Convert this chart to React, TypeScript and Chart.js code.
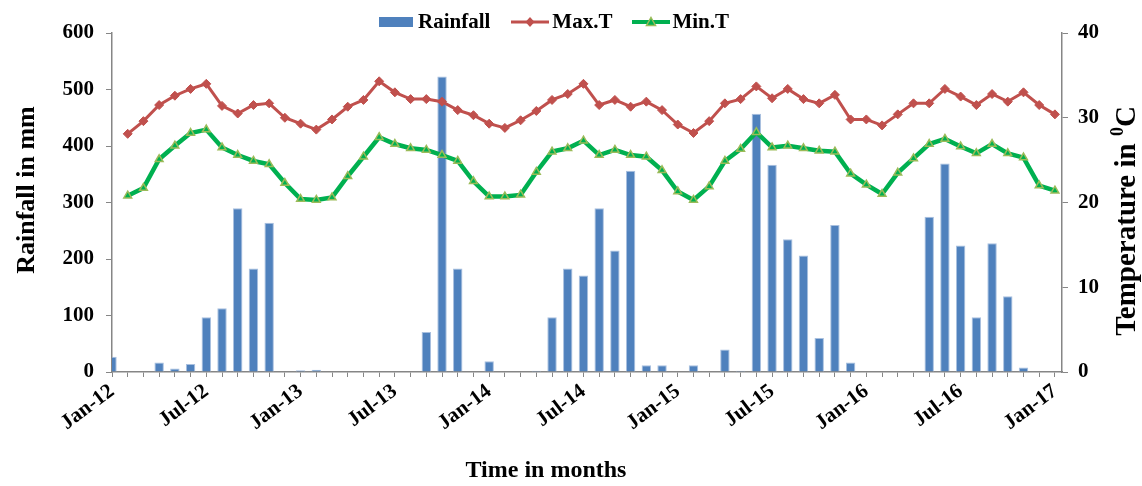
import React, { useEffect, useRef } from 'react';
import { Chart, registerables } from 'chart.js';

Chart.register(...registerables);

const FONT = "'Liberation Serif', 'Times New Roman', Times, serif";

const seriesLabels = ['Rainfall', 'Max.T', 'Min.T'];
const tickLabels = ['Jan-12', 'Jul-12', 'Jan-13', 'Jul-13', 'Jan-14', 'Jul-14', 'Jan-15', 'Jul-15', 'Jan-16', 'Jul-16', 'Jan-17'];
const leftTitle = 'Rainfall in mm';
const rightTitleParts = ['Temperature in ', '0', 'C'];
const xTitle = 'Time in months';

// Monthly values, Jan-12 (index 0) .. Jan-17 (index 60)
const rainfall = [
  27, 0, 0, 17, 6, 14, 97, 113, 290, 183, 264, 0,
  3, 4, 0, 0, 0, 0, 0, 0, 71, 523, 183, 0,
  19, 0, 0, 2, 97, 183, 171, 290, 215, 356, 12, 12,
  0, 12, 0, 40, 2, 457, 367, 235, 206, 60, 260, 17,
  0, 0, 0, 0, 275, 369, 224, 97, 228, 134, 8, 0,
  0,
];
const maxT = [
  null, 28.1, 29.6, 31.5, 32.6, 33.4, 34.0, 31.4, 30.5, 31.5, 31.7, 30.0,
  29.3, 28.6, 29.8, 31.3, 32.1, 34.3, 33.0, 32.2, 32.2, 31.9, 30.9, 30.3,
  29.3, 28.8, 29.7, 30.8, 32.1, 32.8, 34.0, 31.5, 32.1, 31.3, 31.9, 30.9,
  29.2, 28.2, 29.6, 31.7, 32.2, 33.7, 32.3, 33.4, 32.2, 31.7, 32.7, 29.8,
  29.8, 29.1, 30.4, 31.7, 31.7, 33.4, 32.5, 31.5, 32.8, 31.9, 33.0, 31.5,
  30.4,
];
const minT = [
  null, 20.8, 21.7, 25.1, 26.7, 28.2, 28.6, 26.5, 25.6, 24.9, 24.5, 22.3,
  20.4, 20.3, 20.6, 23.1, 25.4, 27.7, 26.9, 26.4, 26.2, 25.6, 24.9, 22.5,
  20.7, 20.7, 20.9, 23.6, 26.0, 26.4, 27.3, 25.6, 26.2, 25.6, 25.4, 23.8,
  21.3, 20.3, 21.9, 24.9, 26.3, 28.3, 26.5, 26.7, 26.4, 26.1, 26.0, 23.4,
  22.1, 21.0, 23.5, 25.2, 26.9, 27.5, 26.6, 25.8, 26.9, 25.8, 25.3, 22.0,
  21.4,
];

const RAIN = '#4F81BD';
const RAIN_EDGE = '#A9C0DF';
const MAX_C = '#C0504D';
const MIN_C = '#00B050';
const MIN_EDGE = '#9BBB59';
const AXIS = '#868686';

const tickFont = { family: FONT, size: 21, weight: 'bold' as const };

const titlesPlugin = {
  id: 'customTitles',
  afterDraw(chart: any) {
    const ctx = chart.ctx as CanvasRenderingContext2D;
    ctx.save();
    ctx.fillStyle = '#000';
    ctx.textAlign = 'center';
    ctx.textBaseline = 'middle';
    // x title
    ctx.font = `bold 24px ${FONT}`;
    ctx.fillText(xTitle, 546, 471);
    // left title
    ctx.save();
    ctx.font = `bold 26px ${FONT}`;
    ctx.translate(27, 190);
    ctx.rotate(-Math.PI / 2);
    ctx.fillText(leftTitle, 0, 0);
    ctx.restore();
    // right title with superscript
    const size = 29;
    ctx.save();
    ctx.translate(1128, 221);
    ctx.rotate(-Math.PI / 2);
    ctx.textAlign = 'left';
    ctx.textBaseline = 'middle';
    const big = `bold ${size}px ${FONT}`;
    const small = `bold ${Math.round(size * 0.62)}px ${FONT}`;
    ctx.font = big;
    const w1 = ctx.measureText(rightTitleParts[0]).width;
    const w3 = ctx.measureText(rightTitleParts[2]).width;
    ctx.font = small;
    const w2 = ctx.measureText(rightTitleParts[1]).width;
    let x = -(w1 + w2 + w3) / 2;
    ctx.font = big;
    ctx.fillText(rightTitleParts[0], x, 0);
    x += w1;
    ctx.font = small;
    ctx.fillText(rightTitleParts[1], x, -size * 0.32);
    x += w2;
    ctx.font = big;
    ctx.fillText(rightTitleParts[2], x, 0);
    ctx.restore();
    ctx.restore();
  },
};

function Legend() {
  const textStyle: React.CSSProperties = { display: 'inline-block', lineHeight: '21px' };
  return (
    <div
      style={{
        position: 'absolute',
        left: 379,
        top: 11,
        height: 21,
        display: 'flex',
        alignItems: 'center',
        whiteSpace: 'nowrap',
        font: `bold 21px ${FONT}`,
        color: '#000',
      }}
    >
      <span style={{ display: 'inline-block', width: 34, height: 10, background: RAIN, marginRight: 5 }} />
      <span style={textStyle}>{seriesLabels[0]}</span>
      <svg width={38} height={12} style={{ marginLeft: 21, marginRight: 3 }}>
        <line x1={0} y1={6} x2={38} y2={6} stroke={MAX_C} strokeWidth={3} />
        <polygon points="19,1 23.5,6 19,11 14.5,6" fill={MAX_C} />
      </svg>
      <span style={textStyle}>{seriesLabels[1]}</span>
      <svg width={38} height={12} style={{ marginLeft: 20, marginRight: 2 }}>
        <line x1={0} y1={6} x2={38} y2={6} stroke={MIN_C} strokeWidth={4} />
        <polygon points="19,1.5 23.5,9.5 14.5,9.5" fill={MIN_C} stroke={MIN_EDGE} strokeWidth={1.5} />
      </svg>
      <span style={textStyle}>{seriesLabels[2]}</span>
    </div>
  );
}

export default function App() {
  const ref = useRef<HTMLCanvasElement>(null);

  useEffect(() => {
    const canvas = ref.current;
    if (!canvas) return;
    const chart = new Chart(canvas, {
      type: 'bar',
      data: {
        datasets: [
          {
            type: 'bar',
            label: seriesLabels[0],
            data: rainfall.map((v, i) => ({ x: i, y: v })),
            backgroundColor: RAIN,
            borderColor: RAIN_EDGE,
            borderWidth: 1,
            barPercentage: 0.6,
            categoryPercentage: 1,
            yAxisID: 'y',
            order: 2,
          } as any,
          {
            type: 'line',
            label: seriesLabels[1],
            data: maxT.map((v, i) => ({ x: i, y: v })),
            borderColor: MAX_C,
            backgroundColor: MAX_C,
            borderWidth: 3,
            pointStyle: 'rectRot',
            pointRadius: 4.5,
            pointBorderWidth: 1,
            pointBackgroundColor: MAX_C,
            pointBorderColor: MAX_C,
            tension: 0,
            yAxisID: 'y1',
            order: 1,
          } as any,
          {
            type: 'line',
            label: seriesLabels[2],
            data: minT.map((v, i) => ({ x: i, y: v })),
            borderColor: MIN_C,
            backgroundColor: MIN_C,
            borderWidth: 4.5,
            pointStyle: 'triangle',
            pointRadius: 4.5,
            pointBorderWidth: 1.5,
            pointBackgroundColor: MIN_C,
            pointBorderColor: MIN_EDGE,
            tension: 0,
            yAxisID: 'y1',
            order: 0,
          } as any,
        ],
      },
      options: {
        responsive: false,
        maintainAspectRatio: false,
        animation: false,
        layout: { padding: { top: 33, left: 0, right: 0, bottom: 0 } },
        plugins: {
          legend: { display: false },
          tooltip: { enabled: false },
        },
        scales: {
          x: {
            type: 'linear',
            min: 0,
            max: 60.45,
            bounds: 'data',
            offset: false,
            grid: {
              display: true,
              offset: false,
              drawOnChartArea: false,
              drawTicks: true,
              tickLength: 5,
              color: AXIS,
              lineWidth: 1,
            },
            border: { display: true, color: AXIS, width: 1.5 },
            ticks: {
              stepSize: 1,
              autoSkip: false,
              includeBounds: false,
              minRotation: 37,
              maxRotation: 37,
              padding: 2,
              color: '#000',
              font: tickFont,
              callback: (v: any) => {
                const n = Number(v);
                return Number.isInteger(n) && n % 6 === 0 ? tickLabels[n / 6] : '';
              },
            },
            afterFit: (s: any) => {
              s.height = 114;
            },
          },
          y: {
            type: 'linear',
            position: 'left',
            min: 0,
            max: 600,
            grid: { display: true, drawOnChartArea: false, tickLength: 6, color: AXIS },
            border: { display: true, color: AXIS, width: 1.5 },
            ticks: { stepSize: 100, padding: 12, color: '#000', font: tickFont },
            afterFit: (s: any) => {
              s.width = 112;
            },
          },
          y1: {
            type: 'linear',
            position: 'right',
            min: 0,
            max: 40,
            grid: { display: true, drawOnChartArea: false, tickLength: 6, color: AXIS },
            border: { display: true, color: AXIS, width: 1.5 },
            ticks: { stepSize: 10, padding: 10, color: '#000', font: tickFont },
            afterFit: (s: any) => {
              s.width = 80;
            },
          },
        },
      } as any,
      plugins: [titlesPlugin],
    });
    return () => chart.destroy();
  }, []);

  return (
    <div style={{ position: 'absolute', left: 0, top: 0, width: 1142, height: 486, background: '#fff' }}>
      <canvas ref={ref} width={1142} height={486} style={{ width: 1142, height: 486, display: 'block' }} />
      <Legend />
    </div>
  );
}
